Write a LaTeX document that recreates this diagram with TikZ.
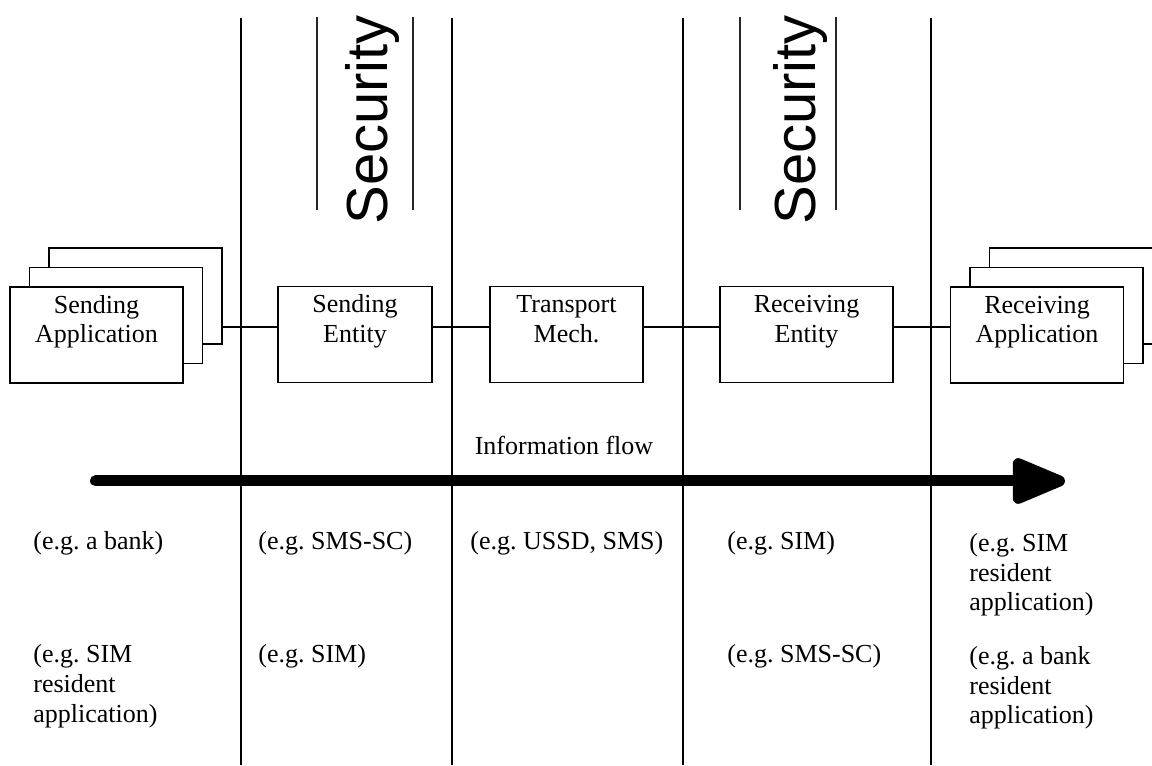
\documentclass[tikz,border=0pt]{standalone}
\usepackage{fontspec}
\setmainfont{Liberation Serif}
\newfontfamily\securityfont{Liberation Sans}
\usetikzlibrary{arrows.meta,calc,positioning}
\tikzset{
  boundary/.style={draw=black, line width=0.85pt},
  secline/.style={draw=black!85, line width=0.65pt},
  security/.style={font=\securityfont\fontsize{33}{36}\selectfont, rotate=90, anchor=base west, inner sep=0pt},
  unit/.style={rectangle, draw=black, line width=1.1pt, fill=white, minimum width=3.46cm, inner xsep=0pt, inner ysep=0pt, text height=1.12cm, text depth=0.80cm, align=center, font=\fontsize{14.8}{17}\selectfont},
  stackbox/.style={rectangle, draw=black, line width=1.1pt, fill=white, minimum width=3.46cm, minimum height=1.92cm},
  link/.style={draw=black, line width=1.1pt},
  flow/.style={-{Triangle[length=1.24cm,width=0.96cm,round]}, draw=black, line width=0.22cm, line cap=round},
  flowLabel/.style={anchor=base, inner sep=0pt, font=\fontsize{14.8}{17}\selectfont},
  note/.style={anchor=base west, align=left, inner sep=0pt, font=\fontsize{14.8}{17}\selectfont}
}

\begin{document}
\frenchspacing
\begin{tikzpicture}[x=1cm,y=1cm]
\useasboundingbox (0,0) rectangle (23.04,15.3);

% --------------------------------------------------------------------------
% Domain boundaries and security zones
% --------------------------------------------------------------------------
\foreach \x in {4.82,9.04,13.66,18.62} {
  \draw[boundary] (\x,0) -- (\x,14.94);
}
\draw[secline] (6.34,14.96) -- (6.34,11.10);
\draw[secline] (8.26,14.96) -- (8.26,11.10);
\node[security] (secSend) at (7.74,10.80) {Security};
\draw[secline] (14.80,14.96) -- (14.80,11.10);
\draw[secline] (16.72,14.96) -- (16.72,11.10);
\node[security] (secRecv) at (16.30,10.80) {Security};

% --------------------------------------------------------------------------
% Chain of entities
% --------------------------------------------------------------------------
\coordinate (chain) at (0,8.76);

\node[stackbox] (sendApp3) at (2.71,9.38) {};
\node[stackbox] (sendApp2) at (2.32,8.99) {};
\node[unit] (sendApp) at (1.93,8.60) {Sending\\Application};

\node[unit, minimum width=3.07cm] (sendEnt) at (7.10,8.61) {Sending\\Entity};
\node[unit, minimum width=3.07cm] (transport) at (11.33,8.61) {Transport\\Mech.};
\node[unit] (recvEnt) at (16.13,8.61) {Receiving\\Entity};

\node[stackbox] (recvApp3) at (21.52,9.38) {};
\node[stackbox] (recvApp2) at (21.13,8.99) {};
\node[unit] (recvApp) at (20.74,8.60) {Receiving\\Application};

\draw[link] (sendApp3.east |- chain) -- (sendEnt.west |- chain);
\draw[link] (sendEnt.east |- chain) -- (transport.west |- chain);
\draw[link] (transport.east |- chain) -- (recvEnt.west |- chain);
\draw[link] (recvEnt.east |- chain) -- (recvApp.west |- chain);

% --------------------------------------------------------------------------
% Information flow
% --------------------------------------------------------------------------
\coordinate (flowStart) at (1.91,5.68);
\coordinate (flowEnd) at (21.30,5.68);
\draw[flow] (flowStart) -- (flowEnd);
\node[flowLabel] (flowText) at (11.28,6.20) {Information flow};

% --------------------------------------------------------------------------
% Examples (base = last line)
% --------------------------------------------------------------------------
\node[note] (exSendAppA) at (0.66,4.30) {(e.g. a bank)};
\node[note] (exSendAppB) at (0.66,0.86) {(e.g. SIM\\resident\\application)};
\node[note] (exSendEntA) at (5.16,4.30) {(e.g. SMS-SC)};
\node[note] (exSendEntB) at (5.16,2.06) {(e.g. SIM)};
\node[note] (exTransport) at (9.40,4.30) {(e.g. USSD, SMS)};
\node[note] (exRecvEntA) at (14.54,4.30) {(e.g. SIM)};
\node[note] (exRecvEntB) at (14.54,2.06) {(e.g. SMS-SC)};
\node[note] (exRecvAppA) at (19.38,3.08) {(e.g. SIM\\resident\\application)};
\node[note] (exRecvAppB) at (19.38,0.82) {(e.g. a bank\\resident\\application)};

\end{tikzpicture}
\end{document}
